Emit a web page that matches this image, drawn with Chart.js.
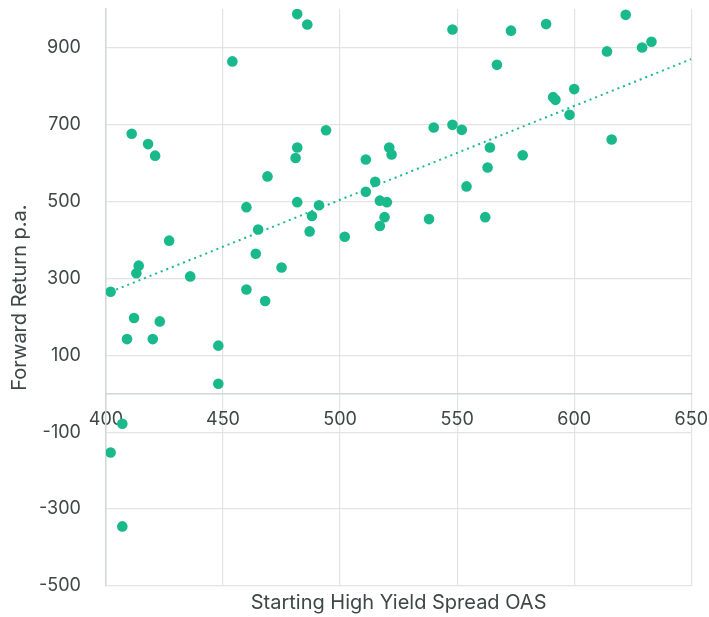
<!DOCTYPE html>
<html>
<head>
<meta charset="utf-8">
<script src="https://cdn.jsdelivr.net/npm/chart.js@4.4.1/dist/chart.umd.min.js"></script>
<style>
html,body{margin:0;padding:0;background:#fff;}
#wrap{width:709px;height:617px;}
</style>
</head>
<body>
<div id="wrap"><canvas id="c" width="709" height="617"></canvas></div>
<script>
// Starting High Yield Spread OAS (x) and Forward Return p.a. (y)
const spreadOAS = [
  481.7, 454, 411, 418, 421, 469, 481.7, 481,
  486, 548, 567, 494, 540, 548, 552, 521, 522, 511, 564, 563, 554, 515, 511,
  573, 588, 622, 614, 629, 633, 600, 591, 592, 598, 616, 578,
  460, 481.7, 465, 464, 475, 427, 414, 413, 436, 402, 460, 468, 412, 423, 409, 420, 448, 448,
  491, 488, 487, 502, 517, 520, 519, 517, 538, 562,
  407, 402, 407
];
const forwardReturn = [
  987, 864, 676, 649, 619, 565, 640, 613,
  960, 947, 855, 685, 692, 699, 686, 640, 622, 609, 640, 588, 539, 551, 525,
  944, 961, 985, 890, 900, 915, 792, 771, 764, 725, 661, 620,
  485, 498, 427, 364, 328, 398, 333, 313, 305, 265, 271, 241, 197, 188, 142, 142, 125, 26,
  490, 462, 422, 408, 502, 498, 459, 436, 454, 459,
  -78, -153, -345
];
// Dotted trend line end points
const trendX = [402, 650];
const trendY = [265, 870];
// Axis ticks
const xTicks = [400, 450, 500, 550, 600, 650];
const yTicks = [-500, -300, -100, 100, 300, 500, 700, 900];
const yMin = -500, yMax = 1000;

const teal = '#19b98b';
const textColor = '#3d4846';
const gridColor = '#e2e4e3';
const FONT = 'Inter, "Open Sans", sans-serif';

const scatterData = spreadOAS.map((x, i) => ({x: x, y: forwardReturn[i]}));
const trendData = trendX.map((x, i) => ({x: x, y: trendY[i]}));

new Chart(document.getElementById('c'), {
  type: 'scatter',
  data: {
    datasets: [
      {
        type: 'scatter',
        data: scatterData,
        backgroundColor: teal,
        borderColor: teal,
        borderWidth: 0,
        pointRadius: 5.3,
        pointHoverRadius: 5.3,
        order: 1
      },
      {
        type: 'line',
        data: trendData,
        borderColor: teal,
        borderWidth: 2,
        borderDash: [2, 4],
        pointRadius: 0,
        fill: false,
        tension: 0,
        order: 2
      }
    ]
  },
  options: {
    responsive: false,
    animation: false,
    layout: {padding: {left: 8, right: 0, top: 0, bottom: 2}},
    plugins: {legend: {display: false}, tooltip: {enabled: false}},
    scales: {
      x: {
        type: 'linear',
        position: {y: 0},
        min: 400, max: 650,
        afterBuildTicks: (s) => { s.ticks = xTicks.map(v => ({value: v})); },
        grid: {color: gridColor, lineWidth: 1.2, drawTicks: true, tickLength: 14, tickColor: 'rgba(0,0,0,0)'},
        border: {color: '#d2d6d5', width: 1.5},
        ticks: {color: textColor, font: {family: FONT, size: 18}, padding: 1, maxRotation: 0}
      },
      x2: {
        type: 'linear',
        position: 'bottom',
        min: 400, max: 650,
        grid: {display: false, drawTicks: false},
        border: {display: false},
        ticks: {display: false},
        title: {display: true, text: 'Starting High Yield Spread OAS', color: textColor,
                font: {family: FONT, size: 20}, padding: {top: 5, bottom: 0}}
      },
      y: {
        type: 'linear',
        min: yMin, max: yMax,
        afterBuildTicks: (s) => { s.ticks = yTicks.map(v => ({value: v})); },
        grid: {color: gridColor, lineWidth: 1.2, drawTicks: true, tickLength: 24, tickColor: 'rgba(0,0,0,0)'},
        border: {color: '#d2d6d5', width: 1.5},
        ticks: {color: textColor, font: {family: FONT, size: 18, lineHeight: 0.9}, padding: 1},
        title: {display: true, text: 'Forward Return p.a.', color: textColor,
                font: {family: FONT, size: 20}, padding: {top: 0, bottom: 6}}
      }
    }
  }
});
</script>
</body>
</html>
